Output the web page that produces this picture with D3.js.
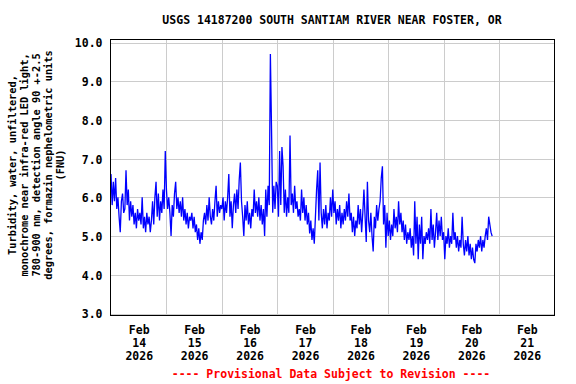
<!DOCTYPE html>
<html>
<head>
<meta charset="utf-8">
<script src="https://cdn.jsdelivr.net/npm/d3@7"></script>
<style>
  body { margin: 0; background: #fff; }
  svg text { font-family: "DejaVu Sans Mono", monospace; font-weight: bold; }
</style>
</head>
<body>
<div id="chart"></div>
<script>
// turbidity readings (FNU), one every 30 minutes, one array per day
var feb14 = [6.6, 5.8, 6.4, 5.9, 6.5, 5.7, 6.0, 5.5, 5.1, 5.9, 6.1, 5.6, 5.7, 6.7, 5.8, 6.2, 5.4, 5.9, 5.5, 5.8,
  5.3, 5.6, 5.2, 5.7, 5.4, 5.6, 5.3, 6.0, 5.2, 5.5, 5.1, 5.6, 5.3, 5.5, 5.1, 5.4, 5.9, 5.3, 6.0, 6.4,
  5.5, 6.1, 5.4, 5.9, 5.6, 6.2, 5.7, 7.2];
var feb15 = [6.2, 5.7, 6.0, 5.6, 5.0, 5.8, 5.5, 6.1, 6.4, 5.7, 6.0, 5.6, 5.9, 5.5, 6.0, 5.4, 5.7, 5.3, 5.6, 5.2,
  5.5, 5.4, 5.6, 5.2, 5.5, 5.1, 5.3, 4.9, 5.2, 4.8, 5.1, 4.9, 5.4, 5.6, 5.3, 5.8, 5.4, 6.0, 5.5, 5.3,
  5.7, 5.4, 5.9, 6.3, 5.5, 5.9, 5.6, 5.8];
var feb16 = [5.7, 6.0, 5.4, 5.9, 5.6, 6.0, 6.6, 5.5, 5.9, 5.2, 5.8, 6.1, 5.6, 6.2, 5.7, 6.45, 6.9, 5.9, 5.5, 5.0,
  5.8, 5.4, 5.9, 5.3, 5.6, 5.2, 5.7, 5.5, 6.2, 5.6, 5.9, 5.5, 6.0, 5.4, 5.8, 5.3, 5.7, 5.0, 6.2, 5.5,
  6.3, 5.8, 9.7, 7.75, 5.6, 6.3, 5.7, 6.4];
var feb17 = [6.3, 5.5, 7.2, 5.8, 7.3, 6.8, 5.6, 6.2, 5.5, 6.0, 5.6, 7.6, 5.8, 6.1, 5.6, 6.3, 5.7, 5.9, 5.5, 5.7,
  5.4, 6.2, 5.6, 6.0, 5.4, 5.8, 5.3, 5.6, 5.07, 5.4, 4.9, 5.2, 4.8, 5.5, 6.2, 6.7, 5.4, 6.9, 5.6, 5.2,
  5.7, 5.3, 5.8, 5.2, 5.6, 5.4, 6.0, 5.5];
var feb18 = [6.2, 5.6, 5.9, 5.3, 5.7, 5.4, 5.8, 5.2, 5.6, 5.3, 5.7, 5.4, 5.9, 5.5, 6.1, 5.4, 5.6, 5.1, 5.5, 5.0,
  5.4, 5.2, 5.8, 5.3, 5.7, 5.1, 5.6, 6.2, 5.5, 4.85, 6.4, 5.4, 5.1, 5.6, 5.0, 4.6, 5.5, 5.2, 5.8, 5.4,
  5.7, 5.9, 6.5, 6.8, 5.3, 5.8, 4.7, 5.6];
var feb19 = [5.0, 5.4, 4.9, 5.3, 5.0, 5.7, 5.2, 5.5, 5.1, 5.9, 5.3, 5.6, 5.1, 5.4, 4.9, 5.3, 4.8, 5.1, 4.9, 5.2,
  4.7, 5.0, 4.5, 5.9, 4.8, 5.5, 4.4, 5.3, 4.8, 5.5, 4.4, 5.0, 4.8, 5.1, 4.9, 5.2, 4.8, 5.7, 4.9, 5.3,
  4.7, 5.1, 5.6, 4.9, 5.4, 5.0, 5.5, 4.9];
var feb20 = [5.1, 4.4, 5.0, 4.8, 5.2, 4.7, 5.0, 4.8, 5.6, 4.9, 5.1, 4.7, 5.0, 4.6, 4.9, 4.7, 5.5, 4.8, 4.5, 4.9,
  4.6, 5.0, 4.5, 4.8, 4.4, 4.7, 4.4, 4.3, 4.8, 4.6, 4.9, 4.7, 5.0, 4.6, 4.9, 4.7, 5.0, 5.2, 4.9, 5.5,
  5.3, 5.1, 5.0];

var days = [feb14, feb15, feb16, feb17, feb18, feb19, feb20];
var dayLabels = ["14", "15", "16", "17", "18", "19", "20", "21"];
var yTicks = [3.0, 4.0, 5.0, 6.0, 7.0, 8.0, 9.0, 10.0];
var yLabelLines = [
  "Turbidity, water, unfiltered,",
  "monochrome near infra-red LED light,",
  "780-900 nm, detection angle 90 +-2.5",
  "degrees, formazin nephelometric units",
  "(FNU)"
];

// flatten into {t, v}
var data = [];
days.forEach(function (vals, d) {
  vals.forEach(function (v, i) {
    data.push({ t: new Date(Date.UTC(2026, 1, 14 + d, 0, 30 * i)), v: v });
  });
});

var W = 576, H = 384;
var box = { left: 110.5, right: 554.5, top: 39.5, bottom: 315.5 };

var svg = d3
  .select("#chart")
  .append("svg")
  .attr("width", W)
  .attr("height", H);

// Set the ranges
var x = d3
  .scaleUtc()
  .domain([new Date(Date.UTC(2026, 1, 14)), new Date(Date.UTC(2026, 1, 22))])
  .range([111, 554.5]);

var y = d3.scaleLinear().domain([3, 10]).range([313.5, 42.5]);

// grid
var midnights = d3.range(1, 8).map(function (d) {
  return new Date(Date.UTC(2026, 1, 14 + d));
});
svg
  .append("g")
  .selectAll("line")
  .data(midnights)
  .enter()
  .append("line")
  .attr("x1", function (d) { return Math.round(x(d)) + 0.5; })
  .attr("x2", function (d) { return Math.round(x(d)) + 0.5; })
  .attr("y1", box.top)
  .attr("y2", box.bottom)
  .attr("stroke", "#cccccc")
  .attr("stroke-width", 1);

svg
  .append("g")
  .selectAll("line")
  .data(yTicks)
  .enter()
  .append("line")
  .attr("x1", box.left)
  .attr("x2", box.right)
  .attr("y1", function (d) { return Math.round(y(d)) + 0.5; })
  .attr("y2", function (d) { return Math.round(y(d)) + 0.5; })
  .attr("stroke", "#cccccc")
  .attr("stroke-width", 1);

// Add line into SVG
var line = d3
  .line()
  .x(function (d) { return x(d.t); })
  .y(function (d) { return y(d.v); });

svg
  .append("path")
  .datum(data)
  .attr("fill", "none")
  .attr("stroke", "#0000ff")
  .attr("stroke-width", 1.3)
  .attr("d", line);

// frame
svg
  .append("rect")
  .attr("x", box.left)
  .attr("y", box.top)
  .attr("width", box.right - box.left)
  .attr("height", box.bottom - box.top)
  .attr("fill", "none")
  .attr("stroke", "#000")
  .attr("stroke-width", 1);

// Add the Y Axis
var yaxis = svg
  .append("g")
  .attr("transform", "translate(" + box.left + ",0)")
  .call(
    d3.axisLeft(y)
      .tickValues(yTicks)
      .tickSize(0)
      .tickPadding(8)
      .tickFormat(d3.format(".1f"))
  );
yaxis.select(".domain").remove();
yaxis
  .selectAll("text")
  .attr("font-family", null)
  .attr("font-size", null)
  .style("font-size", "11.5px")
  .attr("dy", "0.38em")
  .attr("fill", "#000");

// Add the X Axis (labels at noon of each day)
var noons = dayLabels.map(function (s, i) {
  return new Date(Date.UTC(2026, 1, 14 + i, 12));
});
var xaxis = svg
  .append("g")
  .attr("transform", "translate(0," + box.bottom + ")")
  .call(d3.axisBottom(x).tickValues(noons).tickSize(0).tickFormat(""));
xaxis.select(".domain").remove();
xaxis
  .selectAll(".tick text")
  .attr("dy", null)
  .attr("y", null)
  .style("font-size", "11.5px")
  .attr("fill", "#000")
  .each(function (d, i) {
    var t = d3.select(this);
    ["Feb", dayLabels[i], "2026"].forEach(function (s, k) {
      t.append("tspan").attr("x", 0).attr("y", 18.5 + k * 13).text(s);
    });
  });

// title
svg
  .append("text")
  .attr("x", 332)
  .attr("y", 24)
  .attr("text-anchor", "middle")
  .style("font-size", "11.5px")
  .text("USGS 14187200 SOUTH SANTIAM RIVER NEAR FOSTER, OR");

// Add a label to the y axis
svg
  .append("g")
  .attr("transform", "translate(0,165) rotate(-90)")
  .selectAll("text")
  .data(yLabelLines)
  .enter()
  .append("text")
  .attr("x", 0)
  .attr("y", function (d, i) { return 15.5 + i * 12; })
  .attr("text-anchor", "middle")
  .style("font-size", "10.3px")
  .text(function (d) { return d; });

// provisional note
svg
  .append("text")
  .attr("x", 331)
  .attr("y", 377.5)
  .attr("text-anchor", "middle")
  .attr("fill", "#ff0000")
  .style("font-size", "11.5px")
  .text("---- Provisional Data Subject to Revision ----");
</script>
</body>
</html>
